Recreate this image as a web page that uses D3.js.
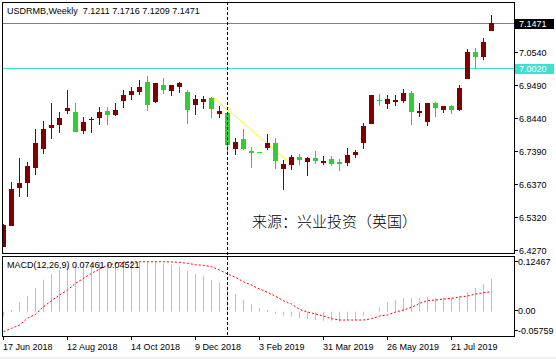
<!DOCTYPE html>
<html><head><meta charset="utf-8">
<script src="https://cdn.jsdelivr.net/npm/d3@7"></script>
<style>
html,body{margin:0;padding:0;background:#fff;}
svg{display:block;}
text{font-family:"Liberation Sans",Arial,sans-serif;font-size:9px;fill:#000;}
</style></head>
<body>
<svg id="c" width="556" height="359"></svg>
<script>
// ---------- DATA ----------
const dates = ["2018-06-17","2018-06-24","2018-07-01","2018-07-08","2018-07-15","2018-07-22","2018-07-29","2018-08-05","2018-08-12","2018-08-19","2018-08-26","2018-09-02","2018-09-09","2018-09-16","2018-09-23","2018-10-07","2018-10-14","2018-10-21","2018-10-28","2018-11-04","2018-11-11","2018-11-18","2018-11-25","2018-12-02","2018-12-09","2018-12-16","2018-12-23","2018-12-30","2019-01-06","2019-01-13","2019-01-20","2019-01-27","2019-02-03","2019-02-10","2019-02-17","2019-02-24","2019-03-03","2019-03-10","2019-03-17","2019-03-24","2019-03-31","2019-04-07","2019-04-14","2019-04-21","2019-04-28","2019-05-05","2019-05-12","2019-05-19","2019-05-26","2019-06-02","2019-06-09","2019-06-16","2019-06-23","2019-06-30","2019-07-07","2019-07-14","2019-07-21","2019-07-28","2019-08-04","2019-08-11","2019-08-18","2019-08-25"];
const opens  = [6.4375,6.5040,6.6243,6.6401,6.6876,6.7478,6.8143,6.8238,6.8681,6.8640,6.8048,6.8400,6.8460,6.8672,6.8555,6.8998,6.9188,6.9283,6.9590,6.8966,6.9495,6.9315,6.9441,6.9273,6.8871,6.8966,6.9083,6.8586,6.8618,6.7478,6.7795,6.7415,6.7373,6.7510,6.7668,6.6845,6.6971,6.7225,6.7066,6.7183,6.7035,6.7152,6.7066,6.7035,6.7288,6.7668,6.8270,6.9020,6.8893,6.8966,6.8998,6.9242,6.8608,6.8323,6.8925,6.8703,6.8830,6.8703,6.9685,7.0540,7.0382,7.1211];
const highs  = [6.5093,6.6423,6.7183,6.7057,6.8102,6.8355,6.8925,6.8640,6.9337,6.8925,6.8482,6.8482,6.8798,6.8798,6.8925,6.9337,6.9432,6.9653,6.9780,6.9565,6.9717,6.9500,6.9590,6.9337,6.9178,6.9156,6.9124,6.8839,6.8625,6.7826,6.8111,6.7541,6.7373,6.7953,6.7826,6.7130,6.7288,6.7320,6.7225,6.7415,6.7256,6.7256,6.7161,6.7510,6.7446,6.8301,6.9185,6.9210,6.9178,6.9178,6.9368,6.9305,6.8925,6.8930,6.8957,6.8835,6.8862,6.9495,7.0635,7.0668,7.0983,7.1716];
const lows   = [6.4356,6.5030,6.5958,6.5958,6.6655,6.7320,6.7795,6.7985,6.8586,6.8010,6.7953,6.7985,6.8238,6.8238,6.8523,6.8776,6.9029,6.9188,6.8681,6.8935,6.9219,6.9156,6.9251,6.8270,6.8555,6.8745,6.8460,6.8460,6.7288,6.7288,6.7446,6.6876,6.7373,6.7446,6.6845,6.6180,6.6813,6.6971,6.6623,6.7003,6.6971,6.6940,6.6781,6.6940,6.7193,6.7478,6.8265,6.8830,6.8735,6.8830,6.8925,6.8228,6.8482,6.8197,6.8482,6.8608,6.8577,6.8672,6.9680,7.0002,7.0287,7.1209];
const closes = [6.5062,6.6202,6.6392,6.6930,6.7658,6.8102,6.8228,6.8450,6.8767,6.8016,6.8323,6.8415,6.8640,6.8555,6.8703,6.9178,6.9305,6.9432,6.8871,6.9558,6.9346,6.9495,6.9558,6.8713,6.9052,6.9052,6.8745,6.8681,6.7605,6.7700,6.7478,6.7332,6.7373,6.7668,6.7098,6.7003,6.7225,6.7130,6.7183,6.7098,6.7098,6.7003,6.7003,6.7288,6.7383,6.8197,6.9178,6.8979,6.9052,6.9020,6.9242,6.8640,6.8672,6.8925,6.8767,6.8830,6.8703,6.9400,7.0540,7.0382,7.0857,7.1471];
const macdMain   = [-0.0114,0.0039,0.0205,0.0358,0.0540,0.0729,0.0859,0.0950,0.1041,0.1064,0.1087,0.1109,0.1132,0.1132,0.1132,0.1144,0.1155,0.1144,0.1132,0.1132,0.1103,0.1071,0.1025,0.0934,0.0859,0.0829,0.0722,0.0661,0.0569,0.0403,0.0267,0.0175,0.0091,0.0039,-0.0036,-0.0091,-0.0114,-0.0150,-0.0166,-0.0189,-0.0205,-0.0205,-0.0228,-0.0189,-0.0189,-0.0091,0.0005,0.0100,0.0205,0.0267,0.0312,0.0312,0.0319,0.0335,0.0319,0.0319,0.0319,0.0358,0.0442,0.0540,0.0631,0.07461];
const macdSignal = [-0.0456,-0.0378,-0.0303,-0.0150,-0.0059,0.0114,0.0251,0.0380,0.0494,0.0647,0.0761,0.0875,0.0973,0.1057,0.1103,0.1132,0.1139,0.1139,0.1139,0.1139,0.1139,0.1132,0.1125,0.1103,0.1071,0.1057,0.1025,0.0950,0.0859,0.0784,0.0683,0.0608,0.0517,0.0442,0.0353,0.0251,0.0175,0.0055,-0.0007,-0.0052,-0.0098,-0.0159,-0.0189,-0.0189,-0.0189,-0.0189,-0.0159,-0.0098,-0.0075,-0.0007,0.0039,0.0100,0.0191,0.0251,0.0267,0.0289,0.0305,0.0335,0.0358,0.0403,0.0433,0.04521];
const priceTicks = [6.4270,6.5320,6.6370,6.7390,6.8440,6.9490,7.0540,7.1500];
const macdTicks = [0.12467,0.00,-0.05759];
const dateTickIdx = [0,8,16,24,32,40,48,56];
const dateTickLabels = ["17 Jun 2018","12 Aug 2018","14 Oct 2018","9 Dec 2018","3 Feb 2019","31 Mar 2019","26 May 2019","21 Jul 2019"];
const lastPrice = 7.1471;
const levelLine = 7.0020;
const separatorIdx = 28;
const trendLine = [{i:26.2,p:6.9106},{i:35.6,p:6.7066}];
const titleText = "USDRMB,Weekly  7.1211 7.1716 7.1209 7.1471";
const macdText = "MACD(12,26,9) 0.07461 0.04521";
const sourceText = "来源：兴业投资（英国）";

// ---------- LAYOUT ----------
const svg = d3.select("#c");
const L = 2, R = 514, mainTop = 2, mainBot = 253, mTop = 256, mBot = 336;
const UP = "#800000", DN = "#32CD32", DOJI = "#00FF00";

const x = d3.scaleLinear().domain([0, 61]).range([3.5, 491.5]);
const y = d3.scaleLinear().domain([6.4270, 7.0540]).range([250, 52]);
const ym = d3.scaleLinear().domain([-0.05759, 0.12467]).range([337, 257]);

svg.append("rect").attr("x",0).attr("y",357).attr("width",556).attr("height",2).attr("fill","#f0f0f0");

const defs = svg.append("defs");
defs.append("clipPath").attr("id","cm").append("rect").attr("x",L+1).attr("y",mainTop+1).attr("width",R-L-1).attr("height",mainBot-mainTop-1);
defs.append("clipPath").attr("id","cd").append("rect").attr("x",L+1).attr("y",mTop+1).attr("width",R-L-1).attr("height",mBot-mTop-1);

const gm = svg.append("g").attr("clip-path","url(#cm)");
const gd = svg.append("g").attr("clip-path","url(#cd)");

// horizontal lines
gm.append("line").attr("x1",L).attr("x2",R).attr("y1",Math.round(y(lastPrice))+0.5).attr("y2",Math.round(y(lastPrice))+0.5).attr("stroke","#808080");
gm.append("line").attr("x1",L).attr("x2",R).attr("y1",Math.round(y(levelLine))+0.5).attr("y2",Math.round(y(levelLine))+0.5).attr("stroke","#40E0D0");

// trend line
gm.append("line").attr("x1",x(trendLine[0].i)).attr("y1",y(trendLine[0].p)).attr("x2",x(trendLine[1].i)).attr("y2",y(trendLine[1].p)).attr("stroke","#FFFF00").attr("stroke-width",1);

// candles
const data = dates.map((d,i)=>({i, d, o:opens[i], h:highs[i], l:lows[i], c:closes[i]}));
const col = d => d.c > d.o ? UP : (d.c < d.o ? DN : DOJI);
const cg = gm.selectAll("g.cd").data(data).join("g").attr("class","cd");
cg.filter(d=>d.h!==d.l).append("line")
  .attr("x1",d=>x(d.i)).attr("x2",d=>x(d.i))
  .attr("y1",d=>Math.round(y(d.h))).attr("y2",d=>Math.round(y(d.l)))
  .attr("stroke",col).attr("stroke-width",1);
cg.append("rect")
  .attr("x",d=>x(d.i)-2.5).attr("width",5)
  .attr("y",d=>Math.round(y(Math.max(d.o,d.c))))
  .attr("height",d=>Math.max(1, Math.round(y(Math.min(d.o,d.c))) - Math.round(y(Math.max(d.o,d.c)))))
  .attr("fill",col);

// Chinese source text
svg.append("text").attr("x",252).attr("y",227).text(sourceText)
  .style("font-family","'Noto Sans CJK SC'").style("font-size","15px").style("font-weight","300");

// MACD histogram
gd.selectAll("line.h").data(macdMain).join("line").attr("class","h")
  .attr("x1",(v,i)=>x(i)).attr("x2",(v,i)=>x(i))
  .attr("y1",ym(0)).attr("y2",v=>ym(v))
  .attr("stroke","#C0C0C0").attr("stroke-width",1);
// signal
gd.append("path").datum(macdSignal)
  .attr("d", d3.line().x((v,i)=>x(i)).y(v=>ym(v)))
  .attr("fill","none").attr("stroke","#FF0000").attr("stroke-width",1).attr("stroke-dasharray","2,2");

// separator
svg.append("line").attr("x1",x(separatorIdx)).attr("x2",x(separatorIdx)).attr("y1",mainTop).attr("y2",mBot)
  .attr("stroke","#000").attr("stroke-dasharray","3,2");

// panel borders
svg.append("rect").attr("x",L+0.5).attr("y",mainTop+0.5).attr("width",R-L).attr("height",mainBot-mainTop).attr("fill","none").attr("stroke","#000");
svg.append("rect").attr("x",L+0.5).attr("y",mTop+0.5).attr("width",R-L).attr("height",mBot-mTop).attr("fill","none").attr("stroke","#000");

// title texts
svg.append("text").attr("x",7).attr("y",14).text(titleText).style("white-space","pre").attr("xml:space","preserve");
svg.append("text").attr("x",7).attr("y",268).text(macdText);

// price axis
const pa = svg.append("g");
priceTicks.forEach(p=>{
  const yy = Math.round(y(p))+0.5;
  pa.append("line").attr("x1",R).attr("x2",R+4).attr("y1",yy).attr("y2",yy).attr("stroke","#000");
  pa.append("text").attr("x",519).attr("y",yy+3).text(p.toFixed(4));
});
function priceBox(p, fill){
  const yy = y(p);
  pa.append("rect").attr("x",515).attr("y",Math.round(yy)-4).attr("width",39).attr("height",10).attr("fill",fill);
  pa.append("text").attr("x",519).attr("y",Math.round(yy)+4).text(p.toFixed(4)).style("fill","#fff");
}
priceBox(lastPrice,"#000");
priceBox(levelLine,"#40E0D0");

// macd axis
const macdLabelY = [262, 310.5, 330.5];
macdTicks.forEach((v,k)=>{
  const yy = Math.round(macdLabelY[k]-1)+0.5;
  pa.append("line").attr("x1",R).attr("x2",R+4).attr("y1",yy).attr("y2",yy).attr("stroke","#000");
  pa.append("text").attr("x",518).attr("y",macdLabelY[k]+3).text(v===0?"0.00":v.toFixed(5));
});

// date axis
dateTickIdx.forEach((idx,k)=>{
  const xx = Math.floor(x(idx))+0.5;
  pa.append("line").attr("x1",xx).attr("x2",xx).attr("y1",mBot).attr("y2",mBot+4).attr("stroke","#000");
  pa.append("text").attr("x",x(idx)-0.5).attr("y",350).text(dateTickLabels[k]);
});
</script>
</body></html>
